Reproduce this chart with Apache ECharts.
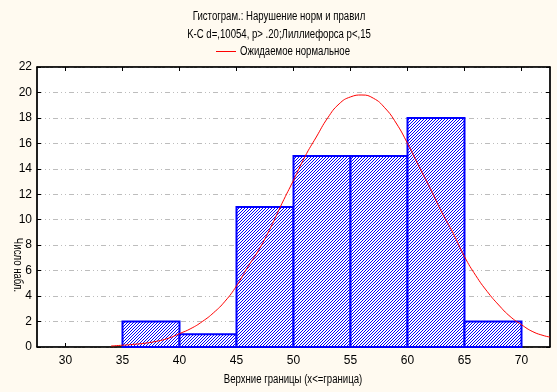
<!DOCTYPE html>
<html><head><meta charset="utf-8">
<script src="https://cdn.jsdelivr.net/npm/echarts@6/dist/echarts.min.js"></script>
<style>html,body{margin:0;padding:0;background:#FFFAF0}#c{width:557px;height:392px}</style>
</head><body><div id="c"></div>
<script>
// Histogram bins (upper bounds) and observed counts
const binLower = [35, 40, 45, 50, 55, 60, 65];
const binUpper = [40, 45, 50, 55, 60, 65, 70];
const counts   = [2, 1, 11, 15, 15, 18, 2];
const xTicks   = [30, 35, 40, 45, 50, 55, 60, 65, 70];
// Expected normal curve
const curveX = [34,35,36,37,38,39,40,41,42,43,44,45,46,47,48,49,50,51,52,53,54,55,56,57,58,59,60,61,62,63,64,65,66,67,68,69,70,71,72,72.5];
const curveY = [0.08,0.14,0.21,0.30,0.45,0.68,1.05,1.45,2.0,2.7,3.6,4.8,6.3,7.7,9.4,11.3,13.1,14.95,16.5,18.0,19.1,19.65,19.8,19.55,18.8,17.6,16.0,14.2,12.45,10.6,8.95,7.1,5.6,4.35,3.3,2.4,1.75,1.2,0.88,0.78];

const titleLine1 = 'Гистограм.: Нарушение норм и правил';
const titleLine2 = 'K-C d=,10054, p> .20;Лиллиефорса p<,15';
const legendName = 'Ожидаемое нормальное';
const xName = 'Верхние границы (x<=граница)';
const yName = 'Число набл.';

const FONT = '"Liberation Sans", Arial, sans-serif';
const SX = 0.8;

const pc = document.createElement('canvas');
pc.width = 3; pc.height = 3;
const g = pc.getContext('2d');
g.fillStyle = '#ffffff'; g.fillRect(0, 0, 3, 3);
g.fillStyle = '#0000ff';
g.fillRect(2, 0, 1, 1); g.fillRect(1, 1, 1, 1); g.fillRect(0, 2, 1, 1);

function label(text, x, y, opts) {
  return Object.assign({
    type: 'text', x: x, y: y, scaleX: SX, z: 10,
    style: {text: text, fill: '#000', font: '12px ' + FONT, textAlign: 'center', textVerticalAlign: 'middle'}
  }, opts || {});
}

const chart = echarts.init(document.getElementById('c'), null, {renderer: 'canvas'});
const gridDash = [5, 3, 1, 3, 1, 3];
const option = {
  backgroundColor: '#FFFAF0',
  animation: false,
  textStyle: {fontFamily: FONT},
  grid: {left: 37, right: 7, top: 67, bottom: 45, show: true, backgroundColor: '#ffffff', borderColor: '#000', borderWidth: 1},
  xAxis: [{
    type: 'value', min: 27.5, max: 72.5, position: 'bottom',
    axisLine: {show: true, onZero: false, lineStyle: {color: '#000', width: 1.5}},
    axisTick: {show: true, inside: true, length: 4, customValues: xTicks, lineStyle: {color: '#000'}},
    axisLabel: {customValues: xTicks, fontSize: 12, color: '#000', margin: 8, fontFamily: FONT},
    splitLine: {show: false}
  }, {
    type: 'value', min: 27.5, max: 72.5, position: 'top',
    axisLine: {show: true, onZero: false, lineStyle: {color: '#000', width: 1.5}},
    axisTick: {show: true, inside: true, length: 4, customValues: xTicks, lineStyle: {color: '#000'}},
    axisLabel: {show: false},
    splitLine: {show: false}
  }],
  yAxis: [{
    type: 'value', min: 0, max: 22, interval: 2, position: 'left',
    axisLine: {show: true, onZero: false, lineStyle: {color: '#000', width: 1.5}},
    axisTick: {show: true, inside: true, length: 4, lineStyle: {color: '#000'}},
    axisLabel: {fontSize: 12, color: '#000', margin: 5, fontFamily: FONT},
    splitLine: {show: true, lineStyle: {color: '#bdbdbd', width: 1, type: gridDash}}
  }, {
    type: 'value', min: 0, max: 22, interval: 2, position: 'right',
    axisLine: {show: true, onZero: false, lineStyle: {color: '#000', width: 1.5}},
    axisTick: {show: true, inside: true, length: 4, lineStyle: {color: '#000'}},
    axisLabel: {show: false},
    splitLine: {show: false}
  }],
  graphic: [
    label(titleLine1, 279, 17),
    label(titleLine2, 279, 35),
    {type: 'line', shape: {x1: 216, y1: 51.5, x2: 236, y2: 51.5}, style: {stroke: '#ff0000', lineWidth: 1}},
    label(legendName, 240, 52, {style: {text: legendName, fill: '#000', font: '12px ' + FONT, textAlign: 'left', textVerticalAlign: 'middle'}}),
    label(xName, 293, 380),
    label(yName, 17, 265, {rotation: -Math.PI / 2})
  ],
  series: [{
    type: 'custom', name: 'hist', xAxisIndex: 0, yAxisIndex: 0,
    data: binLower.map((l, i) => [l, binUpper[i], counts[i]]),
    encode: {x: [0, 1], y: 2},
    renderItem: function (params, api) {
      const p0 = api.coord([api.value(0), 0]);
      const p1 = api.coord([api.value(1), api.value(2)]);
      return {
        type: 'rect',
        shape: {x: p0[0], y: p1[1], width: p1[0] - p0[0], height: p0[1] - p1[1]},
        style: {fill: {image: pc, repeat: 'repeat'}, stroke: '#0000ff', lineWidth: 2}
      };
    },
    z: 2
  }, {
    type: 'line', name: legendName, xAxisIndex: 0, yAxisIndex: 0,
    data: curveX.map((x, i) => [x, curveY[i]]),
    showSymbol: false, symbol: 'none', smooth: true, clip: true,
    lineStyle: {color: '#ff0000', width: 1}, itemStyle: {color: '#ff0000'},
    z: 3
  }]
};
chart.setOption(option);
</script>
</body></html>
